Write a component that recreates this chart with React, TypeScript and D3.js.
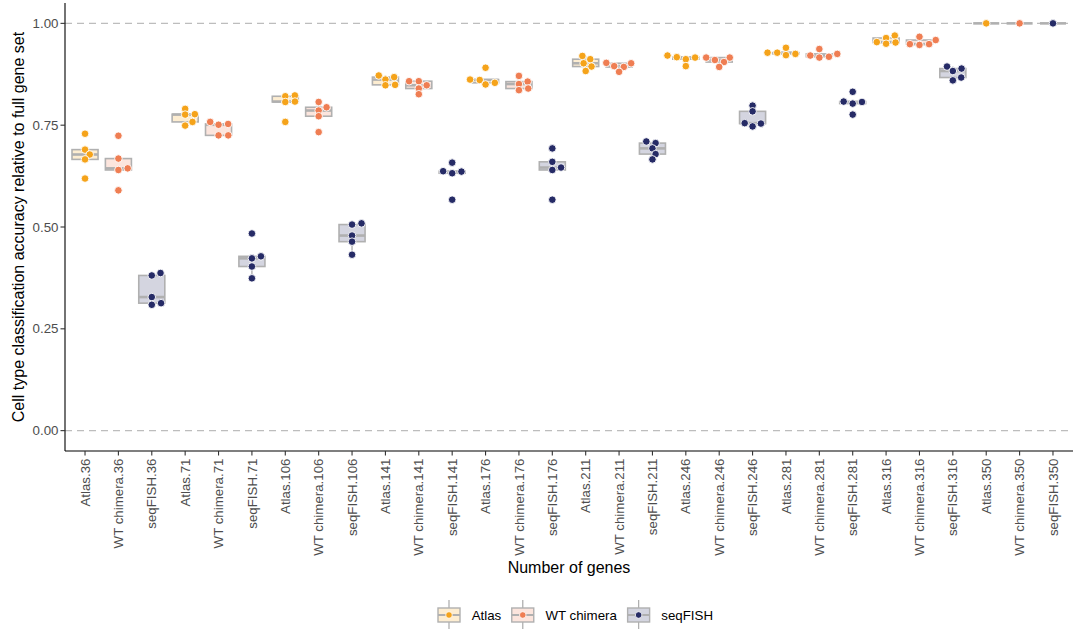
import React from 'react';
import * as d3 from 'd3';

// gene set sizes and groups, categories are "<group>.<genes>"
const geneCounts = [36, 71, 106, 141, 176, 211, 246, 281, 316, 350];
const groups = ['Atlas', 'WT chimera', 'seqFISH'];
const groupColors = ['#f5a31a', '#ef7e53', '#262b66'];

// accuracy relative to full gene set, one row per gene count
const atlasValues = [
  [0.729, 0.690, 0.678, 0.666, 0.619],
  [0.790, 0.776, 0.777, 0.758, 0.749],
  [0.821, 0.823, 0.807, 0.808, 0.758],
  [0.872, 0.868, 0.862, 0.849, 0.848],
  [0.891, 0.862, 0.861, 0.854, 0.850],
  [0.920, 0.912, 0.902, 0.894, 0.883],
  [0.921, 0.917, 0.916, 0.912, 0.895],
  [0.928, 0.928, 0.940, 0.922, 0.925],
  [0.954, 0.964, 0.970, 0.950, 0.953],
  [1.0],
];
const chimeraValues = [
  [0.724, 0.668, 0.640, 0.644, 0.590],
  [0.758, 0.751, 0.753, 0.725, 0.725],
  [0.807, 0.794, 0.786, 0.772, 0.733],
  [0.858, 0.858, 0.848, 0.840, 0.826],
  [0.871, 0.857, 0.851, 0.840, 0.836],
  [0.903, 0.902, 0.895, 0.893, 0.881],
  [0.916, 0.916, 0.910, 0.905, 0.893],
  [0.937, 0.925, 0.921, 0.918, 0.916],
  [0.967, 0.959, 0.949, 0.949, 0.947],
  [1.0],
];
const seqfishValues = [
  [0.387, 0.381, 0.328, 0.313, 0.309],
  [0.484, 0.428, 0.423, 0.403, 0.374],
  [0.509, 0.506, 0.479, 0.464, 0.432],
  [0.658, 0.637, 0.636, 0.632, 0.567],
  [0.693, 0.660, 0.646, 0.640, 0.567],
  [0.710, 0.706, 0.693, 0.679, 0.666],
  [0.798, 0.784, 0.755, 0.754, 0.747],
  [0.832, 0.808, 0.807, 0.803, 0.776],
  [0.894, 0.889, 0.883, 0.867, 0.860],
  [1.0],
];
const yTicks = [0, 0.25, 0.5, 0.75, 1];
const refLines = [0, 1];

const W = 1073;
const H = 629;
const margin = { top: 3, right: 0, bottom: 178, left: 65 };
const font = '"Liberation Sans", Arial, Helvetica, sans-serif';
const tickColor = '#4d4d4d';
const boxStroke = '#b0b0b0';
const dotR = 3.8;
// swarm spacing: horizontal and vertical collision distances (px)
const gapX = 9.7;
const gapY = 5.6;

const seriesValues = [atlasValues, chimeraValues, seqfishValues];

type Cell = { label: string; group: number; values: number[] };
const cells: Cell[] = [];
geneCounts.forEach((g, i) => {
  groups.forEach((grp, k) => {
    cells.push({ label: `${grp}.${g}`, group: k, values: seriesValues[k][i] });
  });
});

const x = d3.scalePoint<string>()
  .domain(cells.map(c => c.label))
  .range([margin.left, W - margin.right])
  .padding(0.6);
const y = d3.scaleLinear()
  .domain([-0.05, 1.05])
  .range([H - margin.bottom, margin.top]);

const fmt = d3.format('.2f');

function lighten(c: string, a: number) {
  const rgb = d3.rgb(c);
  const mix = (v: number) => Math.round(255 - (255 - v) * a);
  return d3.rgb(mix(rgb.r), mix(rgb.g), mix(rgb.b)).formatHex();
}

// beeswarm: points placed in ascending order at the free x nearest the center
function swarm(vals: number[]) {
  const pts = vals.map(v => ({ v, py: y(v), dx: 0 }));
  const order = pts.slice().sort((a, b) => a.v - b.v);
  const placed: typeof pts = [];
  for (const p of order) {
    const iv = placed
      .filter(q => Math.abs(q.py - p.py) < gapY)
      .map(q => {
        const r = (q.py - p.py) / gapY;
        const h = gapX * Math.sqrt(1 - r * r);
        return [q.dx - h, q.dx + h];
      });
    const cands = [0, ...iv.flat()].sort((a, b) => Math.abs(a) - Math.abs(b) || b - a);
    const ok = cands.find(c => iv.every(([lo, hi]) => c <= lo + 1e-6 || c >= hi - 1e-6));
    p.dx = ok ?? 0;
    placed.push(p);
  }
  return pts;
}

function boxStats(vals: number[]) {
  const s = vals.slice().sort(d3.ascending);
  const q1 = d3.quantile(s, 0.25)!;
  const med = d3.quantile(s, 0.5)!;
  const q3 = d3.quantile(s, 0.75)!;
  const iqr = q3 - q1;
  const lo = d3.min(s.filter(v => v >= q1 - 1.5 * iqr))!;
  const hi = d3.max(s.filter(v => v <= q3 + 1.5 * iqr))!;
  return { q1, med, q3, lo, hi };
}

function textWidth(t: string, size: number) {
  const ctx = document.createElement('canvas').getContext('2d');
  if (!ctx) return t.length * size * 0.5;
  ctx.font = `${size}px ${font}`;
  return ctx.measureText(t).width;
}

const App: React.FC = () => {
  const step = x.step();
  const boxW = step * 0.78;
  const x0 = margin.left;
  const yBottom = H - margin.bottom;

  // legend layout
  const legendSize = 13.3;
  const keyW = 22;
  let lx = 438;
  const legendItems = groups.map((g, k) => {
    const item = { g, k, x: lx };
    lx += keyW + 11.7 + textWidth(g, legendSize) + 10.5;
    return item;
  });
  const legendY = 615;

  return (
    <svg width={W} height={H} style={{ position: 'absolute', left: 0, top: 0, display: 'block', background: '#fff' }}
      fontFamily={font}>
      {/* reference lines */}
      {refLines.map(v => (
        <line key={v} x1={x0} x2={W} y1={y(v)} y2={y(v)} stroke="#bdbdbd" strokeWidth={1.3} strokeDasharray="7,5" />
      ))}

      {/* boxplots */}
      {cells.map(c => {
        const b = boxStats(c.values);
        const cx = x(c.label)!;
        const fill = lighten(groupColors[c.group], 0.2);
        return (
          <g key={'b' + c.label}>
            <line x1={cx} x2={cx} y1={y(b.hi)} y2={y(b.q3)} stroke={boxStroke} strokeWidth={1.4} />
            <line x1={cx} x2={cx} y1={y(b.q1)} y2={y(b.lo)} stroke={boxStroke} strokeWidth={1.4} />
            <rect x={cx - boxW / 2} y={y(b.q3)} width={boxW} height={Math.max(0, y(b.q1) - y(b.q3))}
              fill={fill} stroke={boxStroke} strokeWidth={1.6} />
            <line x1={cx - boxW / 2} x2={cx + boxW / 2} y1={y(b.med)} y2={y(b.med)} stroke={boxStroke} strokeWidth={2.6} />
          </g>
        );
      })}

      {/* points */}
      {cells.map(c => {
        const cx = x(c.label)!;
        return (
          <g key={'p' + c.label}>
            {swarm(c.values).map((p, i) => (
              <circle key={i} cx={cx + p.dx} cy={p.py} r={dotR} fill={groupColors[c.group]} stroke="#fff" strokeWidth={0.9} />
            ))}
          </g>
        );
      })}

      {/* y axis */}
      <line x1={x0} x2={x0} y1={margin.top} y2={yBottom} stroke="#000" strokeWidth={1.1} />
      {yTicks.map(t => (
        <g key={t}>
          <line x1={x0 - 4.5} x2={x0} y1={y(t)} y2={y(t)} stroke="#333" strokeWidth={1.1} />
          <text x={x0 - 6.5} y={y(t)} dy="0.35em" textAnchor="end" fontSize={13.3} fill={tickColor}>{fmt(t)}</text>
        </g>
      ))}

      {/* x axis */}
      <line x1={x0} x2={W} y1={yBottom} y2={yBottom} stroke="#000" strokeWidth={1.1} />
      {cells.map(c => {
        const cx = x(c.label)!;
        return (
          <g key={'t' + c.label}>
            <line x1={cx} x2={cx} y1={yBottom} y2={yBottom + 4.5} stroke="#333" strokeWidth={1.1} />
            <text transform={`translate(${cx},${yBottom + 7.5}) rotate(-90)`} dy="0.35em" textAnchor="end"
              fontSize={13.3} fill={tickColor}>{c.label}</text>
          </g>
        );
      })}

      {/* axis titles */}
      <text transform={`translate(24,${(margin.top + yBottom) / 2}) rotate(-90)`} textAnchor="middle" fontSize={16} fill="#000">
        Cell type classification accuracy relative to full gene set
      </text>
      <text x={(x0 + W) / 2} y={573} textAnchor="middle" fontSize={16} fill="#000">Number of genes</text>

      {/* legend */}
      {legendItems.map(it => {
        const cx = it.x + keyW / 2;
        return (
          <g key={it.g}>
            <line x1={cx} x2={cx} y1={legendY - 15} y2={legendY - 7} stroke={boxStroke} strokeWidth={1.3} />
            <line x1={cx} x2={cx} y1={legendY + 7} y2={legendY + 15} stroke={boxStroke} strokeWidth={1.3} />
            <rect x={it.x} y={legendY - 7} width={keyW} height={14} fill={lighten(groupColors[it.k], 0.2)}
              stroke={boxStroke} strokeWidth={1.4} />
            <line x1={it.x} x2={it.x + keyW} y1={legendY} y2={legendY} stroke={boxStroke} strokeWidth={2} />
            <circle cx={cx} cy={legendY} r={3.3} fill={groupColors[it.k]} stroke="#fff" strokeWidth={0.8} />
            <text x={it.x + keyW + 11.7} y={legendY} dy="0.35em" fontSize={legendSize} fill="#000">{it.g}</text>
          </g>
        );
      })}
    </svg>
  );
};

export default App;
